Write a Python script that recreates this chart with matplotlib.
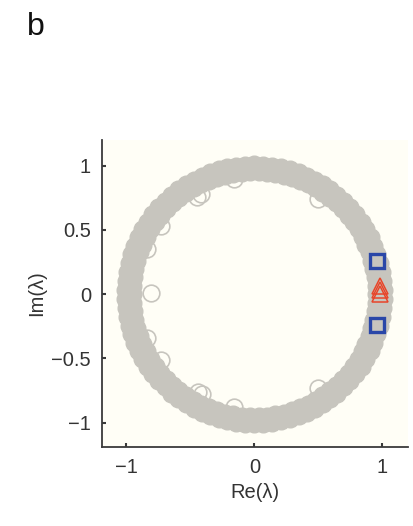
import numpy as np
import matplotlib
matplotlib.use("Agg")
import matplotlib.pyplot as plt

plt.rcParams['font.family'] = ['Liberation Sans', 'DejaVu Sans']

# ---- data (eigenvalues) ----
# dense annulus of eigenvalues near the unit circle: angle (deg) and modulus
ring_angle_deg = [
    0, 2, 4, 6, 8, 10, 12, 14, 16, 18, 20, 22, 24, 26, 28, 30, 32, 34,
    36, 38, 40, 42, 44, 46, 48, 50, 52, 54, 56, 58, 60, 62, 64, 66, 68, 70,
    72, 74, 76, 78, 80, 82, 84, 86, 88, 90, 92, 94, 96, 98, 100, 102, 104, 106,
    108, 110, 112, 114, 116, 118, 120, 122, 124, 126, 128, 130, 132, 134, 136, 138, 140, 142,
    144, 146, 148, 150, 152, 154, 156, 158, 160, 162, 164, 166, 168, 170, 172, 174, 176, 178,
    180, 182, 184, 186, 188, 190, 192, 194, 196, 198, 200, 202, 204, 206, 208, 210, 212, 214,
    216, 218, 220, 222, 224, 226, 228, 230, 232, 234, 236, 238, 240, 242, 244, 246, 248, 250,
    252, 254, 256, 258, 260, 262, 264, 266, 268, 270, 272, 274, 276, 278, 280, 282, 284, 286,
    288, 290, 292, 294, 296, 298, 300, 302, 304, 306, 308, 310, 312, 314, 316, 318, 320, 322,
    324, 326, 328, 330, 332, 334, 336, 338, 340, 342, 344, 346, 348, 350, 352, 354, 356, 358,
]
ring_modulus = [
    0.95, 1.01, 0.95, 1.01, 0.95, 1.01, 0.95, 1.01, 0.95, 1.01, 0.95, 1.01, 0.95, 1.01, 0.95, 1.01, 0.95, 1.01,
    0.95, 1.01, 0.95, 1.01, 0.95, 1.01, 0.95, 1.01, 0.95, 1.01, 0.95, 1.01, 0.95, 1.01, 0.95, 1.01, 0.95, 1.01,
    0.95, 1.01, 0.95, 1.01, 0.95, 1.01, 0.95, 1.01, 0.95, 1.01, 0.95, 1.01, 0.95, 1.01, 0.95, 1.01, 0.95, 1.01,
    0.95, 1.01, 0.95, 1.01, 0.95, 1.01, 0.95, 1.01, 0.95, 1.01, 0.95, 1.01, 0.95, 1.01, 0.95, 1.01, 0.95, 1.01,
    0.95, 1.01, 0.95, 1.01, 0.95, 1.01, 0.95, 1.01, 0.95, 1.01, 0.95, 1.01, 0.95, 1.01, 0.95, 1.01, 0.95, 1.01,
    0.95, 1.01, 0.95, 1.01, 0.95, 1.01, 0.95, 1.01, 0.95, 1.01, 0.95, 1.01, 0.95, 1.01, 0.95, 1.01, 0.95, 1.01,
    0.95, 1.01, 0.95, 1.01, 0.95, 1.01, 0.95, 1.01, 0.95, 1.01, 0.95, 1.01, 0.95, 1.01, 0.95, 1.01, 0.95, 1.01,
    0.95, 1.01, 0.95, 1.01, 0.95, 1.01, 0.95, 1.01, 0.95, 1.01, 0.95, 1.01, 0.95, 1.01, 0.95, 1.01, 0.95, 1.01,
    0.95, 1.01, 0.95, 1.01, 0.95, 1.01, 0.95, 1.01, 0.95, 1.01, 0.95, 1.01, 0.95, 1.01, 0.95, 1.01, 0.95, 1.01,
    0.95, 1.01, 0.95, 1.01, 0.95, 1.01, 0.95, 1.01, 0.95, 1.01, 0.95, 1.01, 0.95, 1.01, 0.95, 1.01, 0.95, 1.01,
]

# eigenvalues lying just inside the annulus
inner_re = [-0.16, -0.42, -0.45, 0.50, -0.73, -0.84, -0.81, -0.84, -0.73, -0.44, -0.41, -0.16, 0.50]
inner_im = [0.90, 0.78, 0.76, 0.74, 0.53, 0.35, 0.01, -0.34, -0.51, -0.76, -0.78, -0.88, -0.73]

# highlighted eigenvalues
square_re = [0.96, 0.96]
square_im = [0.255, -0.237]
triangle_re = [0.985, 0.985, 0.985]
triangle_im = [0.065, 0.03, 0.0]

x_ticks = [-1, 0, 1]
x_tick_labels = ["\u22121", "0", "1"]
y_ticks = [-1, -0.5, 0, 0.5, 1]
y_tick_labels = ["\u22121", "\u22120.5", "0", "0.5", "1"]

# ---- figure ----
ring_color = '#c7c5be'
fig = plt.figure(figsize=(4.14, 5.26), dpi=100)
ax = fig.add_axes([0.2464, 0.1502, 0.7391, 0.5836])
ax.set_facecolor('#fffef6')

theta = np.deg2rad(ring_angle_deg)
mod = np.asarray(ring_modulus)
ax.plot(inner_re, inner_im, linestyle='none', marker='o', markersize=12,
        markerfacecolor='none', markeredgecolor=ring_color, markeredgewidth=1.2, zorder=2)
ax.plot(mod * np.cos(theta), mod * np.sin(theta), linestyle='none', marker='o',
        markersize=12, markerfacecolor=ring_color, markeredgecolor=ring_color,
        markeredgewidth=1.0, zorder=3)
ax.plot(square_re, square_im, linestyle='none', marker='s', markersize=10.5,
        markerfacecolor='none', markeredgecolor='#2a47a8', markeredgewidth=2.4, zorder=4)
ax.plot(triangle_re, triangle_im, linestyle='none', marker='^', markersize=11,
        markerfacecolor='none', markeredgecolor='#e8452a', markeredgewidth=1.1, zorder=5)

ax.set_xlim(-1.19, 1.2)
ax.set_ylim(-1.19, 1.2)
ax.set_xticks(x_ticks)
ax.set_xticklabels(x_tick_labels)
ax.set_yticks(y_ticks)
ax.set_yticklabels(y_tick_labels)

for s in ['top', 'right']:
    ax.spines[s].set_visible(False)
for s in ['left', 'bottom']:
    ax.spines[s].set_color('#3a3a3a')
    ax.spines[s].set_linewidth(1.3)
ax.tick_params(direction='in', length=3, width=1.5, color='#3a3a3a',
               labelsize=14.5, labelcolor='#333333', pad=8)

ax.set_xlabel('Re(\u03bb)', fontsize=14.5, color='#333333', labelpad=4)
ax.set_ylabel('Im(\u03bb)', fontsize=14.5, color='#333333', labelpad=4)

fig.text(0.065, 0.933, 'b', fontsize=23, color='#111111', ha='left', va='baseline')

fig.savefig('out.png', dpi=100)
